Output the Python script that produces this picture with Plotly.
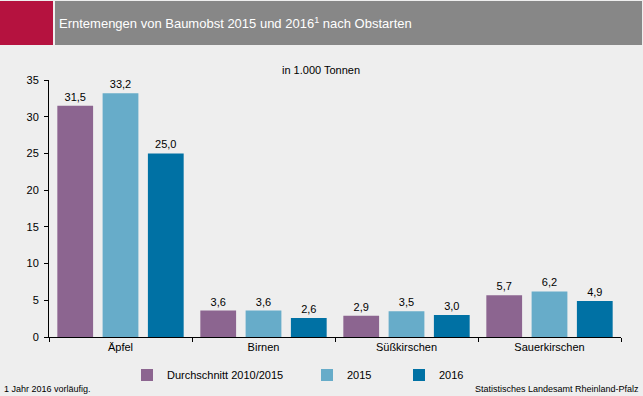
import plotly.graph_objects as go

categories = ["Äpfel", "Birnen", "Süßkirschen", "Sauerkirschen"]
series_names = ["Durchschnitt 2010/2015", "2015", "2016"]
avg_2010_2015 = [31.5, 3.6, 2.9, 5.7]
values_2015 = [33.2, 3.6, 3.5, 6.2]
values_2016 = [25.0, 2.6, 3.0, 4.9]
y_ticks = [0, 5, 10, 15, 20, 25, 30, 35]

colors = ["#8C6590", "#67ACC9", "#0071A4"]
FONT = "Liberation Sans, Arial, sans-serif"

W, H = 643, 396
L, R, T, B = 49, 22, 80, 59
pw = W - L - R
ph = H - T - B


def px_x(p):
    return (p - L) / pw


def px_y(p):
    return (H - B - p) / ph


fig = go.Figure()
legends = ["legend", "legend2", "legend3"]
for name, vals, col, lg in zip(series_names, [avg_2010_2015, values_2015, values_2016], colors, legends):
    fig.add_trace(go.Bar(
        x=categories, y=vals, name=name, marker_color=col, marker_line_width=0,
        text=vals, texttemplate="%{y:.1f}", textposition="outside",
        textfont=dict(size=11, color="#000000", family=FONT),
        cliponaxis=False, legend=lg,
    ))

legend_common = dict(orientation="h", yanchor="middle", xanchor="left",
                     bgcolor="rgba(0,0,0,0)", font=dict(size=11, color="#000000", family=FONT),
                     itemwidth=30, tracegroupgap=0)
leg_y = px_y(375)

fig.update_layout(
    width=W, height=H,
    margin=dict(l=L, r=R, t=T, b=B, pad=0, autoexpand=False),
    paper_bgcolor="#EEEEEE", plot_bgcolor="#EEEEEE",
    separators=",.",
    barmode="group", bargap=0.05, bargroupgap=0.21,
    font=dict(family=FONT, size=11, color="#000000"),
    showlegend=True,
    legend=dict(x=px_x(127), y=leg_y, **legend_common),
    legend2=dict(x=px_x(307), y=leg_y, **legend_common),
    legend3=dict(x=px_x(399), y=leg_y, **legend_common),
    xaxis=dict(showline=True, linecolor="#000000", linewidth=1, ticks="outside",
               tickson="boundaries", ticklen=4, tickcolor="#000000",
               showgrid=False, tickfont=dict(size=11, family=FONT, color="#000000")),
    yaxis=dict(range=[0, 35], tickvals=y_ticks, showline=True, linecolor="#000000",
               linewidth=1, ticks="outside", ticklen=4, tickcolor="#000000",
               showgrid=False, zeroline=False, ticklabelstandoff=3,
               tickfont=dict(size=11, family=FONT, color="#000000")),
    shapes=[
        dict(type="rect", xref="paper", yref="paper", x0=px_x(0), x1=px_x(53),
             y0=px_y(45), y1=px_y(1), fillcolor="#B5123F", line_width=0, layer="above"),
        dict(type="rect", xref="paper", yref="paper", x0=px_x(55), x1=px_x(642),
             y0=px_y(45), y1=px_y(1), fillcolor="#878787", line_width=0, layer="above"),
    ],
    annotations=[
        dict(text="Erntemengen von Baumobst 2015 und 2016<sup>1</sup> nach Obstarten",
             xref="paper", yref="paper", x=px_x(57), y=px_y(23), xanchor="left",
             yanchor="middle", showarrow=False,
             font=dict(size=13, color="#FFFFFF", family=FONT)),
        dict(text="in 1.000 Tonnen", xref="paper", yref="paper", x=px_x(321), y=px_y(70),
             xanchor="center", yanchor="middle", showarrow=False,
             font=dict(size=11, color="#000000", family=FONT)),
        dict(text="1 Jahr 2016 vorläufig.", xref="paper", yref="paper", x=px_x(2), y=px_y(389),
             xanchor="left", yanchor="middle", showarrow=False,
             font=dict(size=9, color="#000000", family=FONT)),
        dict(text="Statistisches Landesamt Rheinland-Pfalz", xref="paper", yref="paper",
             x=px_x(641), y=px_y(389), xanchor="right", yanchor="middle", showarrow=False,
             font=dict(size=9, color="#000000", family=FONT)),
    ],
)

fig.write_html("out.html", config={"displayModeBar": False},
               post_script="document.body.style.margin='0';document.body.style.overflow='hidden';")
